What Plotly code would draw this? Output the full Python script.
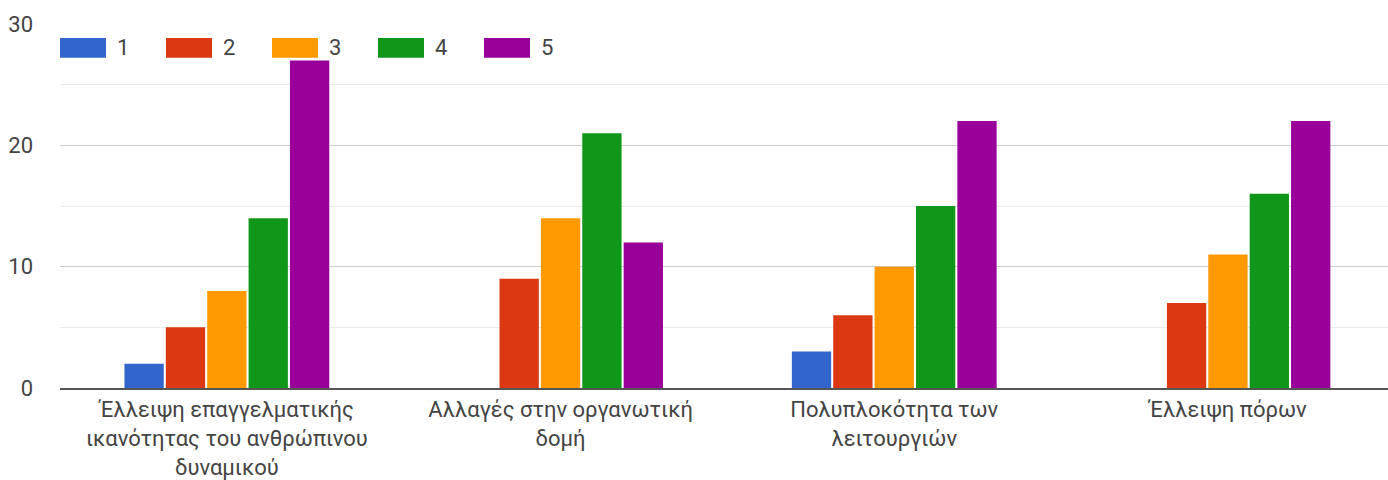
import plotly.graph_objects as go

# Survey responses per rating (1-5) for each factor
categories = [
    "Έλλειψη επαγγελματικής<br>ικανότητας του ανθρώπινου<br>δυναμικού",
    "Αλλαγές στην οργανωτική<br>δομή",
    "Πολυπλοκότητα των<br>λειτουργιών",
    "Έλλειψη πόρων",
]
series_names = ["1", "2", "3", "4", "5"]
rating_1 = [2, 0, 3, 0]
rating_2 = [5, 9, 6, 7]
rating_3 = [8, 14, 10, 11]
rating_4 = [14, 21, 15, 16]
rating_5 = [27, 12, 22, 22]
series_values = [rating_1, rating_2, rating_3, rating_4, rating_5]
colors = ["#3366cc", "#dc3912", "#ff9900", "#109618", "#990099"]

W, H = 1388, 480
ML, MR, MT, MB = 60, 0, 24, 90
PW, PH = W - ML - MR, H - MT - MB
FONT = "Roboto, Arial, sans-serif"
TEXT = "#444444"
FS = 22

fig = go.Figure()
for name, vals, col in zip(series_names, series_values, colors):
    fig.add_trace(go.Bar(
        x=categories, y=vals, name=name,
        marker=dict(color=col, line=dict(width=0)),
        showlegend=False,
    ))

# Legend drawn as wide colour swatches with labels, top-left inside the plot
def px_x(px):
    return (px - ML) / PW

def px_y(py):
    return (H - MB - py) / PH

shapes = []
annotations = []
for i, (name, col) in enumerate(zip(series_names, colors)):
    x0 = 60 + i * 106
    shapes.append(dict(
        type="rect", xref="paper", yref="paper",
        x0=px_x(x0), x1=px_x(x0 + 46), y0=px_y(58), y1=px_y(38),
        fillcolor=col, line=dict(width=0), layer="above",
    ))
    annotations.append(dict(
        xref="paper", yref="paper", x=px_x(x0 + 55), y=px_y(48),
        text=name, showarrow=False, xanchor="left", yanchor="middle",
        font=dict(family=FONT, size=FS, color=TEXT),
    ))

# category slots are slightly wider than the visible plot: the last slot runs past the right edge
slot_px = 333.7
x_hi = -0.5 + PW / slot_px

fig.update_layout(
    width=W, height=H,
    margin=dict(l=ML, r=MR, t=MT, b=MB, pad=0),
    paper_bgcolor="white", plot_bgcolor="white",
    barmode="group", bargap=0.38, bargroupgap=0.05,
    shapes=shapes, annotations=annotations,
    font=dict(family=FONT, color=TEXT, size=FS),
    xaxis=dict(
        range=[-0.5, x_hi],
        showgrid=False, zeroline=False,
        showline=True, linecolor="#555555", linewidth=2,
        tickfont=dict(family=FONT, size=FS, color=TEXT),
        ticks="", ticklabelstandoff=1,
        fixedrange=True,
    ),
    yaxis=dict(
        range=[0, 30], dtick=10, tick0=0,
        showgrid=True, gridcolor="#cccccc", gridwidth=1,
        zeroline=False, showline=False,
        minor=dict(dtick=5, showgrid=True, gridcolor="#ebebeb", gridwidth=1),
        tickfont=dict(family=FONT, size=FS, color=TEXT),
        ticks="", ticklabelstandoff=26,
        fixedrange=True,
    ),
)

fig.write_html("out.html")
